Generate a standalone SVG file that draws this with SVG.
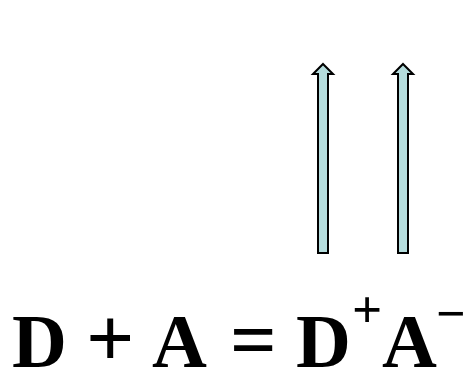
<svg xmlns="http://www.w3.org/2000/svg" width="468" height="371" viewBox="0 0 468 371">
<defs>
<polygon id="arrowShape" points="0,0 10,10 5,10 5,189 -5,189 -5,10 -10,10" fill="#b4dcdc" stroke="#000" stroke-width="2" stroke-linejoin="miter"/>
</defs>
<rect width="468" height="371" fill="#fff"/>
<g id="connectors">
<use id="arrow1" href="#arrowShape" x="323" y="64"/>
<use id="arrow2" href="#arrowShape" x="403" y="64"/>
</g>
<g id="equation">
<text font-family="Liberation Serif" font-weight="bold" font-size="76" y="367"><tspan x="12" y="367">D</tspan> <tspan x="86" y="366" font-size="85">+</tspan> <tspan x="152" y="367">A</tspan> <tspan x="230" y="367" font-size="82">=</tspan> <tspan x="296" y="367">D</tspan><tspan x="352" y="327" font-size="53">+</tspan><tspan x="382" y="367">A</tspan><tspan x="436" y="331" font-size="52">&#8722;</tspan></text>
</g>
</svg>
